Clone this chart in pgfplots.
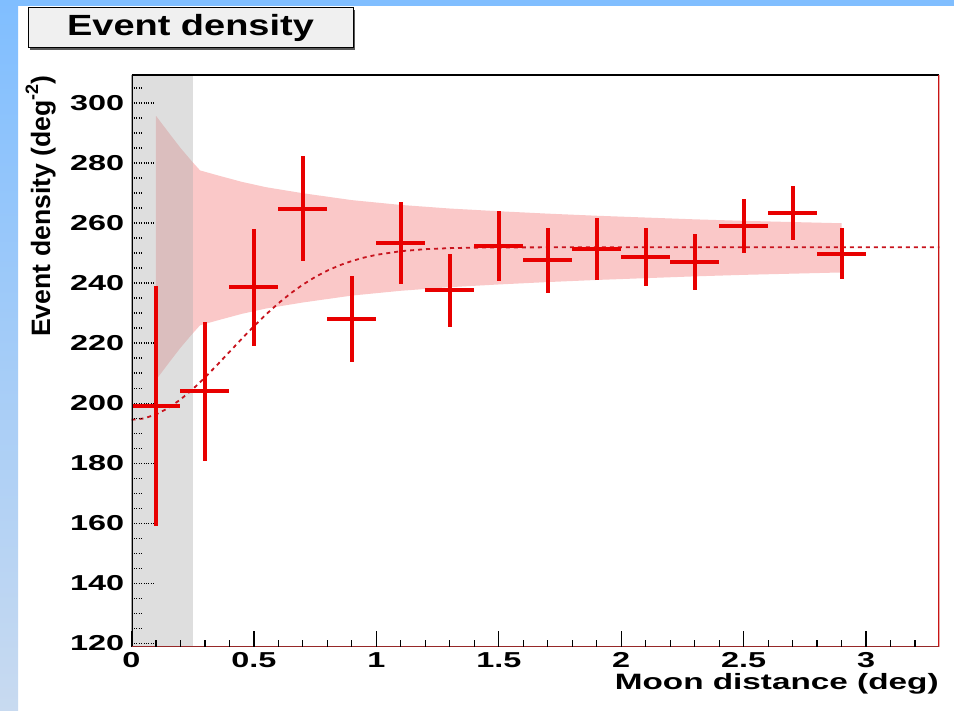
\documentclass[border=0pt]{standalone}
\usepackage{fontspec}
\usepackage{pgfplots}
\pgfplotsset{compat=1.18}
\setmainfont{Liberation Sans}
\newfontfamily\rootfont[FakeStretch=1.5]{Liberation Sans}
\newfontfamily\titlefont[FakeStretch=1.3]{Liberation Sans}
\newfontfamily\plainfont{Liberation Sans}

\definecolor{errred}{RGB}{232,0,0}
\definecolor{fitred}{RGB}{200,20,30}
\definecolor{bandpink}{RGB}{250,200,200}
\definecolor{frameright}{RGB}{200,20,20}
\definecolor{framebottom}{RGB}{150,40,40}
\definecolor{bluetop}{RGB}{128,190,255}
\definecolor{bluebot}{RGB}{200,218,240}
\definecolor{boxgray}{RGB}{240,240,240}

% binned event density: centre, value, half-width, error
\pgfplotstableread{
x    y      ex   ey
0.1  199.0  0.1  40.0
0.3  204.0  0.1  23.2
0.5  238.6  0.1  19.6
0.7  264.8  0.1  17.5
0.9  228.1  0.1  14.4
1.1  253.4  0.1  13.8
1.3  237.6  0.1  12.1
1.5  252.4  0.1  11.8
1.7  247.6  0.1  10.8
1.9  251.4  0.1  10.4
2.1  248.8  0.1  9.7
2.3  247.0  0.1  9.4
2.5  259.1  0.1  9.1
2.7  263.5  0.1  9.0
2.9  249.9  0.1  8.4
}\density

% expected band outline: upper edge left to right, lower edge back
\pgfplotstableread{
x     y
0.10  295.8
0.15  290.4
0.20  285.1
0.25  280.3
0.28  277.6
0.35  276.0
0.45  273.8
0.55  272.0
0.70  270.0
0.90  267.7
1.10  266.1
1.30  264.9
1.50  264.0
1.70  263.2
1.90  262.5
2.10  261.9
2.30  261.3
2.50  260.8
2.70  260.4
2.90  260.0
2.90  243.6
2.70  243.2
2.50  242.8
2.30  242.3
2.10  241.7
1.90  241.1
1.70  240.4
1.50  239.6
1.30  238.7
1.10  237.5
0.90  235.9
0.70  233.6
0.55  231.6
0.45  229.8
0.35  227.6
0.28  226.0
0.25  223.3
0.20  218.5
0.15  213.2
0.10  207.8
}\band

\begin{document}
\begin{tikzpicture}
\fill[white] (0,0) rectangle (477pt,355.5pt);
\shade[top color=bluetop, bottom color=bluebot] (0,0) rectangle (9pt,355.5pt);
\fill[bluetop] (0,352.5pt) rectangle (477pt,355.5pt);

% title box
\fill[black!65] (15pt,330.5pt) rectangle (177.5pt,350.5pt);
\filldraw[fill=boxgray, draw=black, line width=0.5pt] (14pt,331.5pt) rectangle (176.5pt,351.5pt);
\node[anchor=base, inner sep=0pt] at (95.25pt,337.5pt)
  {\titlefont\bfseries\fontsize{14.6pt}{16pt}\selectfont Event density};

\begin{axis}[
  at={(65.75pt,32pt)}, anchor=south west,
  scale only axis, width=404pt, height=286pt,
  xmin=0, xmax=3.3, ymin=118.8, ymax=309.4,
  axis line style={draw=none},
  axis on top,
  tick align=inside,
  xtick pos=bottom, ytick pos=left,
  xtick={0,0.5,1,1.5,2,2.5,3},
  minor xtick={0.1,0.2,0.3,0.4,0.6,0.7,0.8,0.9,1.1,1.2,1.3,1.4,1.6,1.7,1.8,1.9,2.1,2.2,2.3,2.4,2.6,2.7,2.8,2.9,3.1,3.2},
  ytick={120,140,160,180,200,220,240,260,280,300},
  minor ytick={125,130,135,145,150,155,165,170,175,185,190,195,205,210,215,225,230,235,245,250,255,265,270,275,285,290,295,305},
  major tick length=8pt, minor tick length=3.5pt,
  xtick style={black, line width=0.6pt},
  ytick style={black, densely dotted, line width=0.8pt,
    /pgfplots/major tick length=11pt, /pgfplots/minor tick length=5.5pt},
  /pgf/number format/assume math mode=true,
  tick label style={font=\rootfont\bfseries\fontsize{10.8pt}{12pt}\selectfont},
  yticklabel style={anchor=east, inner sep=0pt, xshift=-3.5pt},
  xticklabel style={anchor=north, inner sep=0pt, yshift=-2.5pt},
]
  % expected band
  \addplot[draw=none, fill=bandpink] table[x=x, y=y] {\band} -- cycle;

  % excluded region near the Moon
  \addplot[draw=none, fill=black!30, fill opacity=0.42]
    coordinates {(0,118.8) (0,309.4) (0.25,309.4) (0.25,118.8)} -- cycle;

  % fit
  \addplot[fitred, line width=0.9pt, dash pattern=on 2pt off 2pt] coordinates {
    (0,194.5) (0.05,194.95) (0.1,196.27) (0.15,198.4) (0.2,201.26)
    (0.25,204.7) (0.3,208.6) (0.35,212.79) (0.4,217.13) (0.45,221.46)
    (0.5,225.68) (0.55,229.66) (0.6,233.33) (0.65,236.64) (0.7,239.56)
    (0.75,242.09) (0.8,244.22) (0.85,245.99) (0.9,247.42) (0.95,248.57)
    (1.0,249.47) (1.1,250.69) (1.2,251.36) (1.3,251.71) (1.4,251.87)
    (1.5,251.95) (2.0,252.0) (3.3,252.0)};

  % data
  \addplot[draw=none, mark=none,
    error bars/.cd, x dir=both, x explicit, y dir=both, y explicit,
    error mark=none,
    error bar style={draw=errred, line width=2pt}]
    table[x=x, y=y, x error=ex, y error=ey] {\density};

  % frame
  \draw[black, line width=1pt] (rel axis cs:0,0) -- (rel axis cs:0,1);
  \draw[black, line width=0.6pt] (rel axis cs:0,1) -- (rel axis cs:1,1);
  \draw[frameright, line width=1.2pt] (rel axis cs:1,1) -- (rel axis cs:1,0);
  \draw[framebottom, line width=1.2pt] (rel axis cs:0,0) -- (rel axis cs:1,0);
\end{axis}

\node[anchor=north east, inner sep=0pt] at (469.5pt,19.2pt)
  {\rootfont\bfseries\fontsize{11.1pt}{12pt}\selectfont Moon distance (deg)};
\node[anchor=base east, rotate=90, inner sep=0pt] at (25pt,318pt)
  {\plainfont\bfseries\fontsize{13.3pt}{15pt}\selectfont Event density (deg\raisebox{0.45em}{\fontsize{9pt}{9pt}\selectfont -2})};

\pgfresetboundingbox
\useasboundingbox (0,0) rectangle (477pt,355.5pt);
\end{tikzpicture}
\end{document}
